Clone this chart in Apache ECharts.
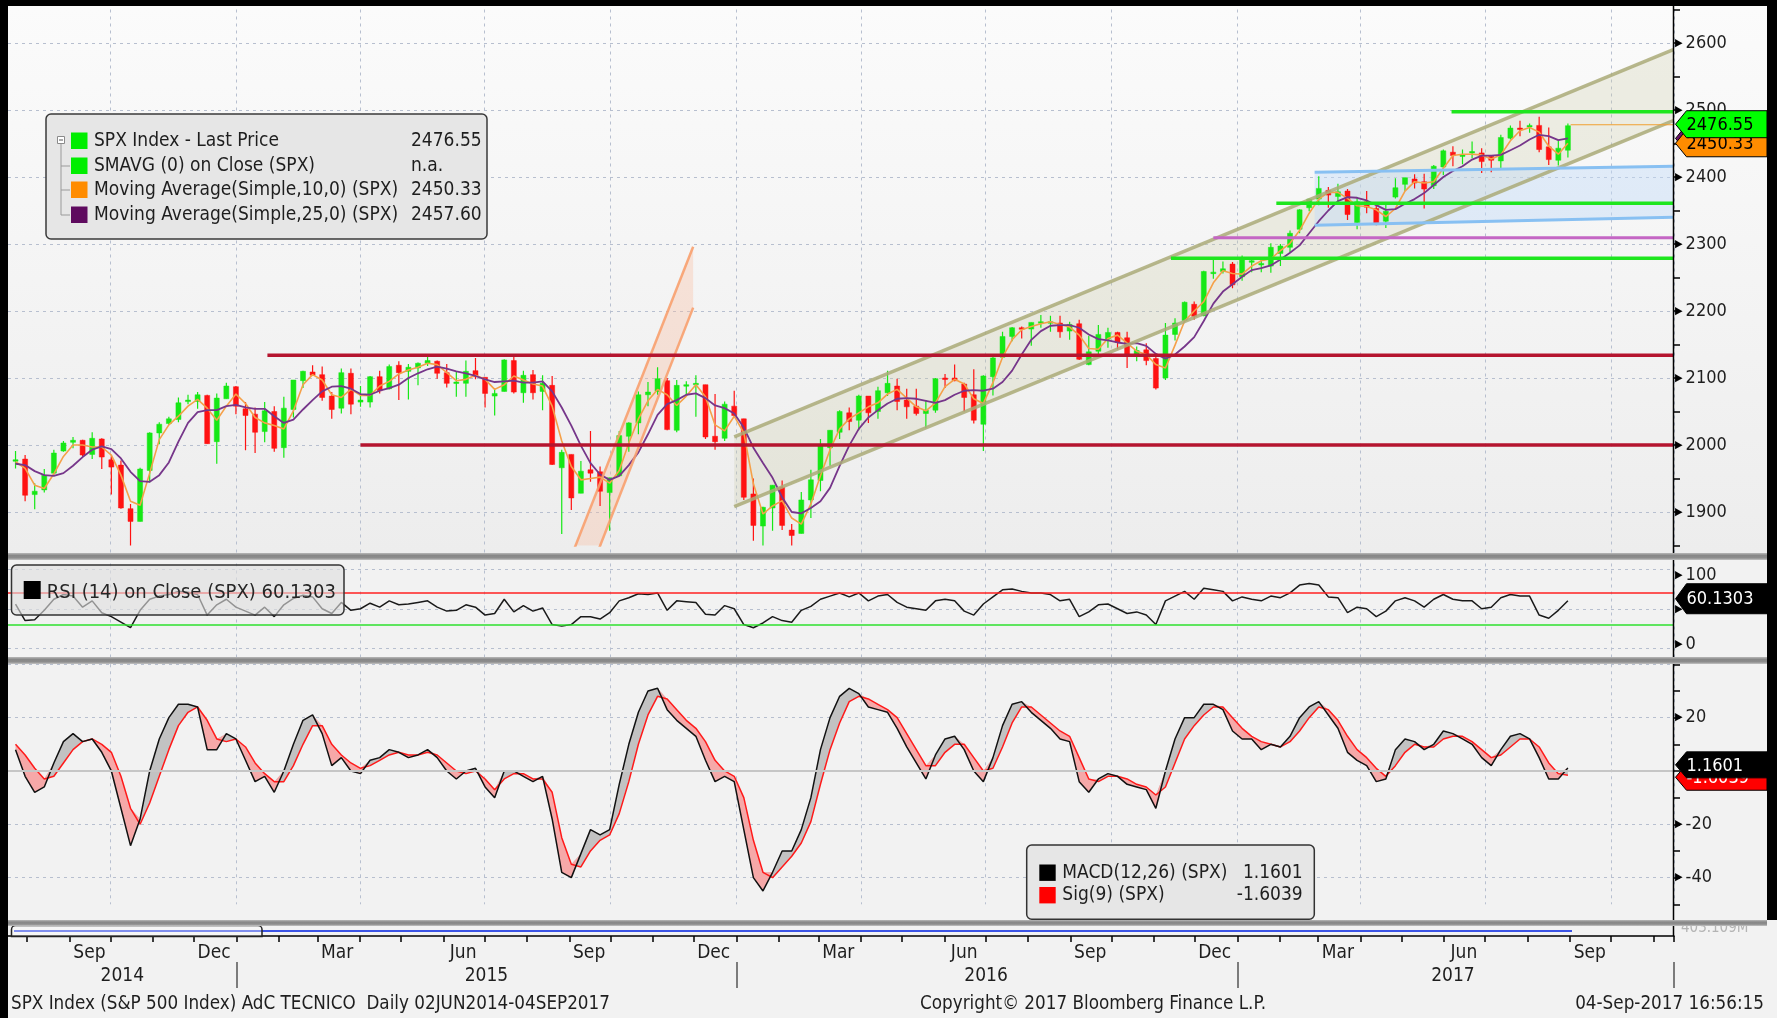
<!DOCTYPE html>
<html>
<head>
<meta charset="utf-8">
<title>SPX Index AdC TECNICO</title>
<script src="https://cdn.jsdelivr.net/npm/echarts/dist/echarts.min.js"></script>
<style>
html,body{margin:0;padding:0;background:#f2f2f2;}
#main{width:1777px;height:1018px;}
</style>
</head>
<body>
<div id="main"></div>
<script>
// axis range (calendar days) and first weekly bar (Wednesday of each week)
var firstDay = '2014-07-18';
var lastDay = '2017-11-15';
var weekStart = '2014-07-23';

// weekly bars: open, close, low, high
var ohlc = [
[1976,1978,1965,1991],[1979,1925,1916,1985],[1926,1931,1904,1943],[1933,1955,1929,1964],[1958,1988,1956,1993],
[1991,2003,1990,2006],[2004,2007,1995,2012],[2007,1985,1983,2008],[1986,2010,1979,2019],[2009,1982,1964,2010],
[1978,1967,1926,1985],[1970,1906,1905,1977],[1905,1886,1821,1912],[1886,1964,1886,1966],[1962,2018,1944,2019],
[2018,2031,2001,2034],[2032,2039,2030,2042],[2038,2063,2034,2071],[2065,2067,2061,2075],[2065,2075,2054,2079],
[2074,2002,2002,2075],[2005,2070,1972,2077],[2069,2088,2069,2093],[2087,2058,2046,2088],
[2054,2044,1992,2064],[2046,2019,1988,2056],[2020,2051,2004,2064],[2050,1995,1990,2058],[1996,2055,1981,2072],
[2053,2097,2041,2097],[2096,2110,2085,2111],[2109,2104,2103,2119],[2105,2071,2066,2117],[2073,2053,2039,2079],
[2055,2108,2047,2114],[2107,2061,2046,2114],[2064,2067,2057,2088],[2064,2102,2056,2103],[2102,2081,2077,2111],
[2084,2117,2083,2120],[2119,2108,2067,2125],[2110,2116,2068,2121],[2115,2122,2089,2123],[2122,2126,2118,2134],
[2125,2107,2099,2126],[2108,2092,2086,2121],[2092,2094,2072,2109],[2092,2110,2072,2126],[2111,2102,2098,2130],
[2101,2077,2056,2085],[2073,2077,2044,2085],[2080,2127,2080,2128],[2126,2079,2077,2133],[2078,2104,2063,2111],
[2105,2078,2068,2112],[2080,2092,2052,2104],[2089,1971,1970,2103],[1966,1989,1867,1993],[1986,1921,1903,1986],
[1928,1961,1928,1976],[1963,1958,1945,2021],[1960,1931,1909,1968],[1929,1951,1872,1951],[1954,2014,1954,2021],
[2013,2033,1990,2034],[2033,2075,2016,2080],[2075,2079,2058,2094],[2080,2099,2075,2116],[2096,2023,2022,2100],
[2022,2089,2019,2097],[2090,2090,2074,2095],[2090,2092,2042,2104],[2090,2012,2009,2090],[2013,2005,1993,2076],
[2010,2061,2006,2065],[2058,2044,2043,2081],
[2039,1922,1918,2039],[1927,1880,1857,1950],[1879,1907,1812,1908],[1906,1940,1872,1940],[1937,1880,1873,1947],
[1873,1865,1810,1882],[1868,1918,1868,1930],[1918,1948,1891,1963],[1947,2000,1931,2009],[1996,2022,1969,2022],
[2019,2050,2009,2052],[2048,2035,2022,2056],[2037,2073,2022,2075],[2073,2048,2033,2073],[2050,2081,2039,2087],
[2078,2092,2073,2111],[2088,2065,2052,2099],[2067,2057,2039,2084],[2058,2047,2044,2084],[2047,2052,2025,2067],
[2052,2099,2048,2100],[2100,2099,2085,2106],[2100,2096,2095,2120],[2091,2071,2050,2093],[2075,2037,2032,2113],
[2031,2103,1991,2104],[2102,2130,2074,2132],[2131,2162,2131,2169],[2162,2175,2155,2176],[2175,2174,2159,2177],
[2173,2183,2148,2183],[2182,2184,2175,2194],[2183,2184,2169,2193],[2182,2169,2160,2193],[2170,2180,2157,2184],
[2181,2128,2127,2187],[2120,2139,2119,2163],[2140,2165,2132,2179],[2158,2168,2145,2175],[2168,2153,2143,2169],
[2160,2133,2115,2169],[2133,2141,2125,2147],[2142,2126,2119,2152],[2129,2085,2083,2133],[2100,2164,2097,2182],
[2165,2182,2156,2189],[2186,2213,2184,2214],[2210,2192,2187,2214],[2193,2259,2192,2260],[2258,2258,2248,2278],
[2259,2263,2256,2274],[2270,2239,2234,2273],
[2251,2277,2245,2283],[2273,2275,2258,2279],[2270,2271,2258,2276],[2267,2295,2257,2301],[2286,2297,2267,2300],
[2295,2316,2287,2320],[2322,2351,2316,2352],[2354,2367,2349,2368],[2367,2383,2358,2401],[2380,2373,2354,2385],
[2371,2378,2361,2390],[2379,2344,2336,2382],[2332,2363,2322,2370],[2363,2355,2346,2379],[2353,2329,2328,2361],
[2334,2349,2324,2360],[2370,2384,2368,2398],[2389,2399,2379,2399],[2397,2391,2383,2404],[2393,2382,2353,2405],
[2387,2416,2382,2418],[2415,2439,2403,2441],[2437,2432,2416,2446],[2432,2433,2419,2441],[2437,2438,2428,2453],
[2436,2423,2406,2443],[2431,2425,2407,2433],[2424,2459,2412,2463],[2458,2473,2456,2477],[2473,2472,2461,2484],
[2477,2477,2466,2480],[2477,2441,2437,2490],[2445,2426,2418,2474],[2425,2443,2417,2454],[2440,2476.55,2429,2480]
];

var ma10 = [
1975,1965,1940,1935,1957,1983,2000,2000,1997,1997,1985,1955,1916,1910,1958,2008,2030,2043,2058,2068,2055,2037,2058,2076,
2062,2041,2033,2029,2024,2051,2090,2105,2097,2075,2071,2083,2074,2074,2088,2095,2106,2112,2116,2122,2120,2108,2096,2098,
2104,2098,2083,2090,2103,2097,2091,2088,2058,2006,1968,1948,1950,1952,1943,1962,2003,2039,2066,2083,2075,2059,2073,2090,
2072,2030,2021,2043,
2018,1942,1897,1909,1917,1891,1882,1912,1954,1993,2024,2039,2048,2057,2063,2076,2083,2070,2057,2051,2063,2087,2098,2091,
2069,2062,2093,2131,2157,2172,2177,2181,2184,2180,2176,2164,2144,2143,2159,2164,2152,2140,2135,2120,2115,2149,2185,2200,
2214,2242,2260,2256,
2255,2267,2275,2278,2290,2301,2320,2346,2367,2377,2377,2368,2357,2356,2351,2341,2353,2379,2393,2391,2393,2413,2432,2434,
2434,2433,2427,2433,2454,2469,2474,2467,2446,2434,2450.33
];

var ma25 = [
1972,1970,1961,1955,1954,1958,1969,1982,1993,1998,1994,1980,1960,1946,1945,1955,1974,2005,2033,2049,2052,2052,2058,2060,
2056,2054,2054,2043,2033,2038,2053,2067,2080,2087,2088,2084,2076,2075,2081,2085,2090,2100,2107,2113,2117,2114,2110,2107,
2103,2098,2094,2095,2096,2093,2093,2095,2080,2056,2029,1999,1973,1956,1948,1954,1970,1989,2016,2045,2061,2067,2075,2077,
2070,2059,2055,2047,
2026,1996,1973,1951,1922,1900,1898,1906,1916,1936,1969,1999,2024,2041,2052,2062,2069,2070,2069,2066,2063,2067,2075,2081,
2082,2081,2084,2094,2111,2135,2157,2170,2178,2179,2179,2175,2165,2158,2156,2153,2151,2152,2148,2136,2129,2135,2147,2161,
2185,2211,2229,2240,
2251,2261,2264,2268,2277,2287,2298,2316,2334,2350,2364,2370,2369,2365,2358,2351,2352,2360,2367,2376,2388,2400,2409,2416,
2426,2432,2432,2433,2440,2447,2456,2463,2461,2455,2457.6
];

var rsi = [
56,35,36,48,62,68,66,52,60,45,40,33,26,48,62,66,68,72,71,68,42,55,62,52,
47,42,52,40,55,63,67,65,50,44,58,48,50,57,52,60,55,56,58,60,52,47,48,55,52,42,44,62,46,54,47,51,30,28,30,40,40,37,45,60,
64,69,68,70,48,60,59,58,43,42,54,50,
30,26,32,40,35,33,48,53,62,66,70,65,70,60,66,68,58,52,50,48,60,62,60,47,42,56,65,74,75,72,70,70,68,60,62,40,46,55,56,50,
44,46,42,30,60,66,72,62,76,74,72,60,
65,62,60,66,64,70,80,82,80,65,64,45,52,50,40,47,60,64,60,52,62,68,62,60,60,50,52,64,68,66,66,42,38,48,60.1303
];

var macd = [
8,-2,-8,-6,3,11,14,11,12,7,0,-14,-28,-18,0,12,20,25,25,24,8,8,14,12,
4,-4,-2,-8,0,10,19,21,14,2,5,0,-1,4,5,8,7,5,6,8,5,0,-3,0,1,-6,-10,0,0,-2,-4,-2,-18,-38,-40,-31,-22,-24,-22,-5,
10,22,30,31,23,19,16,13,4,-4,-2,-4,
-22,-40,-45,-38,-30,-30,-22,-10,8,20,28,31,29,24,23,22,16,9,3,-3,6,12,13,8,0,-4,5,17,25,26,22,19,16,12,11,-4,-8,-3,-1,-2,
-5,-6,-7,-14,0,12,20,20,25,25,23,15,
12,12,8,10,9,13,20,24,26,21,16,7,4,2,-4,-3,8,12,11,8,10,15,14,12,10,5,2,8,13,14,12,5,-3,-3,1.1601
];

var sig = [
10,6,1,-3,-2,3,8,11,12,10,7,-2,-14,-20,-12,-2,8,17,22,24,19,12,11,12,
9,3,-1,-4,-4,2,10,17,17,10,6,3,1,2,4,6,7,6,6,7,6,3,0,-1,0,-3,-7,-3,-1,-1,-3,-3,-8,-25,-35,-36,-30,-26,-24,-16,
-4,10,21,28,27,23,19,16,11,4,0,-2,
-10,-26,-38,-40,-36,-32,-27,-19,-5,8,18,26,28,27,25,23,20,14,8,2,2,7,10,10,5,0,1,9,18,24,24,21,18,15,13,5,-3,-4,-2,-2,
-3,-5,-6,-9,-6,3,12,17,21,24,24,20,
16,13,11,10,9,11,15,20,24,23,19,13,8,5,1,-2,2,7,10,9,9,12,13,13,11,8,5,6,9,12,12,9,3,-1,-1.6039
];

// drawn levels and channels: [from date, price] to the right edge
var redLevels = [['2015-01-23', 2134], ['2015-04-01', 2000]];
var greenLevels = [['2016-11-13', 2278.6], ['2017-01-29', 2360.7], ['2017-06-06', 2497.5]];
var purpleLevels = [['2016-12-14', 2309.4]];
var lastPriceLine = [['2017-09-01', 2478]];
// channels: [date, upper, lower]
var oliveChannel = [['2015-12-30', 2012, 1908], ['2017-11-15', 2590, 2484]];
var blueChannel = [['2017-02-26', 2407, 2328], ['2017-11-15', 2416, 2340]];
var orangeUpper = [['2015-09-03', 1839], ['2015-11-30', 2296]];
var orangeLower = [['2015-09-21', 1839], ['2015-11-30', 2205]];
var rsiLevels = [70, 30];

var monthAbbr = ['Jan','Feb','Mar','Apr','May','Jun','Jul','Aug','Sep','Oct','Nov','Dec'];
var labelMonths = ['03', '06', '09', '12'];
var yearLabelDays = ['2014-10-09', '2015-07-02', '2016-07-01', '2017-06-07'];

var lastVals = {price: 2476.55, ma10: 2450.33, ma25: 2457.60, rsi: 60.1303, macd: 1.1601, sig: -1.6039};

var FONT = "'DejaVu Sans Condensed','Liberation Sans Narrow','DejaVu Sans',sans-serif";
var AXIS_X = 1673.5;
var UP = '#16e816', DOWN = '#ff1212';

function addDays(s, n) {
	var p = s.split('-');
	var d = new Date(Date.UTC(+p[0], +p[1] - 1, +p[2]) + n * 86400000);
	return d.toISOString().slice(0, 10);
}
var days = [];
for (var k = 0; k < 2000; k++) {
	var dd = addDays(firstDay, k);
	days.push(dd);
	if (dd === lastDay) break;
}
var dayIndex = {};
days.forEach(function (d, i) { dayIndex[d] = i; });
var weekDates = ohlc.map(function (r, i) { return addDays(weekStart, 7 * i); });

function pairs(arr) {
	return arr.map(function (v, i) { return [weekDates[i], v]; });
}
function quarterStart(v) {
	var md = v.slice(5);
	return md === '01-01' || md === '04-01' || md === '07-01' || md === '10-01';
}

var candleData = ohlc.map(function (r, i) { return [dayIndex[weekDates[i]], r[0], r[1], r[2], r[3]]; });
// fills between macd and signal
var grayH = macd.map(function (v, i) { return Math.max(v - sig[i], 0); });
var pinkH = macd.map(function (v, i) { return Math.max(sig[i] - v, 0); });

function panelX(gi) {
	return {
		type: 'category', gridIndex: gi, data: days, boundaryGap: true,
		axisLine: {show: false}, axisTick: {show: false}, axisLabel: {show: false},
		splitLine: {show: true, interval: function (i, v) { return quarterStart(v); },
			lineStyle: {color: '#b7bfcf', width: 1, type: [3, 4]}}
	};
}
var richBase = {
	a: {fontSize: 11, color: '#000', fontFamily: FONT},
	t: {fontSize: 18, color: '#1e1e1e', fontFamily: FONT, padding: [0, 0, 0, 3]},
	a2: {fontSize: 11, color: '#000', fontFamily: FONT, padding: [12, 0, 0, 0]},
	t2: {fontSize: 18, color: '#1e1e1e', fontFamily: FONT, padding: [12, 0, 0, 3]},
	a3: {fontSize: 11, color: '#000', fontFamily: FONT, padding: [0, 0, 8, 0]},
	t3: {fontSize: 18, color: '#1e1e1e', fontFamily: FONT, padding: [0, 0, 8, 3]}
};
var gridSplit = {show: true, lineStyle: {color: ['rgba(0,0,0,0)', '#b7bfcf'], width: 1, type: [3, 4]}};

function levelSeries(levels, color, width) {
	return levels.map(function (l) {
		return {type: 'line', xAxisIndex: 0, yAxisIndex: 0, data: [[l[0], l[1]], [lastDay, l[1]]],
			symbol: 'none', silent: true, z: 5, lineStyle: {color: color, width: width}};
	});
}
function channelLines(ch, color, width) {
	return [1, 2].map(function (k) {
		return {type: 'line', xAxisIndex: 0, yAxisIndex: 0, data: ch.map(function (p) { return [p[0], p[k]]; }),
			symbol: 'none', silent: true, z: 4, lineStyle: {color: color, width: width}};
	});
}
function polySeries(corners, fill) {
	return {
		type: 'custom', xAxisIndex: 0, yAxisIndex: 0, clip: true, silent: true, z: 1,
		data: [[dayIndex[corners[0][0]], corners[0][1]]],
		renderItem: function (params, api) {
			var pts = corners.map(function (c) { return api.coord([dayIndex[c[0]], c[1]]); });
			return {type: 'polygon', shape: {points: pts}, style: {fill: fill}};
		}
	};
}
// candles drawn as a clipped custom series so long wicks stop at the panel edge
function renderCandle(params, api) {
	var x = api.value(0), o = api.value(1), c = api.value(2), l = api.value(3), h = api.value(4);
	var pO = api.coord([x, o]), pC = api.coord([x, c]), pL = api.coord([x, l]), pH = api.coord([x, h]);
	var col = c >= o ? UP : DOWN;
	var w = 5;
	var top = Math.min(pO[1], pC[1]);
	return {
		type: 'group',
		children: [
			{type: 'line', shape: {x1: pH[0], y1: pH[1], x2: pL[0], y2: pL[1]}, style: {stroke: col, lineWidth: 1.2}},
			{type: 'rect', shape: {x: pO[0] - w / 2, y: top, width: w, height: Math.max(Math.abs(pO[1] - pC[1]), 1.5)},
				style: {fill: col, stroke: col, lineWidth: 0.5}}
		]
	};
}

var series = [];
series.push(polySeries([[oliveChannel[0][0], oliveChannel[0][1]], [oliveChannel[1][0], oliveChannel[1][1]],
	[oliveChannel[1][0], oliveChannel[1][2]], [oliveChannel[0][0], oliveChannel[0][2]]], 'rgba(205,205,170,0.28)'));
series.push(polySeries([orangeUpper[0], orangeUpper[1], orangeLower[1], orangeLower[0]], 'rgba(250,190,160,0.35)'));
series.push(polySeries([[blueChannel[0][0], blueChannel[0][1]], [blueChannel[1][0], blueChannel[1][1]],
	[blueChannel[1][0], blueChannel[1][2]], [blueChannel[0][0], blueChannel[0][2]]], 'rgba(195,220,248,0.45)'));
series.push({
	type: 'custom', xAxisIndex: 0, yAxisIndex: 0, data: candleData, clip: true, silent: true, z: 2,
	encode: {x: 0, y: [1, 2, 3, 4]}, renderItem: renderCandle
});
series.push({type: 'line', xAxisIndex: 0, yAxisIndex: 0, data: pairs(ma10), symbol: 'none', z: 3, silent: true,
	lineStyle: {color: '#f5a048', width: 1.6}});
series.push({type: 'line', xAxisIndex: 0, yAxisIndex: 0, data: pairs(ma25), symbol: 'none', z: 3, silent: true,
	lineStyle: {color: '#76368a', width: 1.8}});
series = series.concat(channelLines(oliveChannel, 'rgba(170,170,120,0.85)', 3.5));
series = series.concat(channelLines(blueChannel, '#88c0f2', 3));
series.push({type: 'line', xAxisIndex: 0, yAxisIndex: 0, data: orangeUpper, symbol: 'none', z: 4, silent: true,
	lineStyle: {color: 'rgba(248,160,110,0.9)', width: 2.5}});
series.push({type: 'line', xAxisIndex: 0, yAxisIndex: 0, data: orangeLower, symbol: 'none', z: 4, silent: true,
	lineStyle: {color: 'rgba(248,160,110,0.9)', width: 2.5}});
series = series.concat(levelSeries(redLevels, '#b5152f', 3.5));
series = series.concat(levelSeries(greenLevels, '#1ee61e', 3.5));
series = series.concat(levelSeries(purpleLevels, '#c466c4', 3));
series = series.concat(levelSeries(lastPriceLine, '#f0a030', 1.2));
//RSI
series.push({
	type: 'line', xAxisIndex: 1, yAxisIndex: 1, data: pairs(rsi), symbol: 'none', silent: true, z: 3,
	lineStyle: {color: '#1a1a1a', width: 1.5},
	markLine: {silent: true, symbol: ['none', 'none'], label: {show: false}, animation: false,
		data: [{yAxis: rsiLevels[0], lineStyle: {color: '#ff2020', width: 1.5, type: 'solid'}},
			{yAxis: rsiLevels[1], lineStyle: {color: '#2ee02e', width: 1.5, type: 'solid'}}]}
});
//MACD bands + lines
series.push({type: 'line', xAxisIndex: 2, yAxisIndex: 2, data: pairs(sig), stack: 'g', stackStrategy: 'all',
	symbol: 'none', silent: true, z: 1, lineStyle: {opacity: 0},
	markLine: {silent: true, symbol: ['none', 'none'], label: {show: false}, animation: false,
		data: [{yAxis: 0}], lineStyle: {color: '#c6c6c6', width: 2, type: 'solid'}}});
series.push({type: 'line', xAxisIndex: 2, yAxisIndex: 2, data: pairs(grayH), stack: 'g', stackStrategy: 'all',
	symbol: 'none', silent: true, z: 1, lineStyle: {opacity: 0}, areaStyle: {color: '#c2c2c2', opacity: 1}});
series.push({type: 'line', xAxisIndex: 2, yAxisIndex: 2, data: pairs(macd), stack: 'p', stackStrategy: 'all',
	symbol: 'none', silent: true, z: 1, lineStyle: {opacity: 0}});
series.push({type: 'line', xAxisIndex: 2, yAxisIndex: 2, data: pairs(pinkH), stack: 'p', stackStrategy: 'all',
	symbol: 'none', silent: true, z: 1, lineStyle: {opacity: 0}, areaStyle: {color: '#f6a8a8', opacity: 1}});
series.push({type: 'line', xAxisIndex: 2, yAxisIndex: 2, data: pairs(sig), symbol: 'none', silent: true, z: 3,
	lineStyle: {color: '#ff1a1a', width: 1.5}});
series.push({type: 'line', xAxisIndex: 2, yAxisIndex: 2, data: pairs(macd), symbol: 'none', silent: true, z: 3,
	lineStyle: {color: '#111', width: 1.5}});

var option = {
	animation: false,
	backgroundColor: '#f2f2f2',
	grid: [
		{left: 8, right: 103, top: 9.5, height: 536, outerBoundsMode: 'none'},
		{left: 8, right: 103, top: 549.5, height: 118.5, outerBoundsMode: 'none'},
		{left: 8, right: 103, top: 664.3, height: 240, outerBoundsMode: 'none'},
		{left: 8, right: 103, top: 926, height: 10, outerBoundsMode: 'none'}
	],
	xAxis: [
		panelX(0), panelX(1), panelX(2),
		{
			type: 'category', gridIndex: 3, data: days, boundaryGap: true,
			axisLine: {show: true, lineStyle: {color: '#000', width: 1.5}},
			axisTick: {show: true, length: 6, interval: function (i, v) { return v.slice(8) === '01'; },
				lineStyle: {color: '#000', width: 1.5}},
			axisLabel: {show: true, margin: 8,
				interval: function (i, v) { return v.slice(8) === '15' && labelMonths.indexOf(v.slice(5, 7)) >= 0; },
				formatter: function (v) { return monthAbbr[+v.slice(5, 7) - 1]; },
				fontSize: 19, fontFamily: FONT, color: '#1e1e1e'},
			splitLine: {show: false}
		},
		{
			type: 'category', gridIndex: 3, data: days, boundaryGap: true, position: 'bottom', offset: 26,
			axisLine: {show: false},
			axisTick: {show: true, length: 26, interval: function (i, v) { return v.slice(5) === '01-01'; },
				lineStyle: {color: '#555', width: 1.5}},
			axisLabel: {show: true, margin: 5,
				interval: function (i, v) { return yearLabelDays.indexOf(v) >= 0; },
				formatter: function (v) { return v.slice(0, 4); },
				fontSize: 19, fontFamily: FONT, color: '#1e1e1e'},
			splitLine: {show: false}
		}
	],
	yAxis: [
		{
			type: 'value', gridIndex: 0, position: 'right', min: 1850, max: 2650, interval: 50,
			axisLine: {show: false},
			axisTick: {show: true, length: 6, lineStyle: {color: '#000', width: 1.5}},
			axisLabel: {margin: 1, rich: richBase,
				formatter: function (v) { return v % 100 === 0 ? '{a|\u25B6}{t|' + v + '}' : ''; }},
			splitLine: gridSplit
		},
		{
			type: 'value', gridIndex: 1, position: 'right', min: -25, max: 125, interval: 25,
			axisLine: {show: false}, axisTick: {show: false},
			axisLabel: {margin: 1, rich: richBase,
				formatter: function (v) {
					if (v === 100) return '{a2|\u25B6}{t2|100}';
					if (v === 50) return '{a|\u25B6}{t|50}';
					if (v === 0) return '{a3|\u25B6}{t3|0}';
					return '';
				}},
			splitLine: gridSplit
		},
		{
			type: 'value', gridIndex: 2, position: 'right', min: -50, max: 40, interval: 10,
			axisLine: {show: false},
			axisTick: {show: true, length: 6, lineStyle: {color: '#000', width: 1.5}},
			axisLabel: {margin: 1, rich: richBase,
				formatter: function (v) { return (v === 20 || v === -20 || v === -40) ? '{a|\u25B6}{t|' + v + '}' : ''; }},
			splitLine: gridSplit
		},
		{type: 'value', gridIndex: 3, show: false, min: 0, max: 1}
	],
	series: series
};

var chart = echarts.init(document.getElementById('main'));
chart.setOption(option);

// ---------- decorations, legends, value tags ----------
function txt(x, y, s, size, align, color, z) {
	return {type: 'text', z: z || 110, style: {x: x, y: y, text: s, fontSize: size, fontFamily: FONT,
		fill: color || '#1e1e1e', align: align || 'left', verticalAlign: 'middle'}};
}
function rect(x, y, w, h, fill, stroke, r, z) {
	return {type: 'rect', z: z || 100, shape: {x: x, y: y, width: w, height: h, r: r || 0},
		style: {fill: fill, stroke: stroke || null, lineWidth: stroke ? 1.5 : 0}};
}
function sep(y, h) {
	return rect(8, y, 1759, h, {type: 'linear', x: 0, y: 0, x2: 0, y2: 1, colorStops: [
		{offset: 0, color: '#b8b8b8'}, {offset: 0.35, color: '#878787'}, {offset: 0.7, color: '#8d8d8d'}, {offset: 1, color: '#c4c4c4'}]});
}
function tag(cy, h, fill, textColor, label, z) {
	var xa = AXIS_X + 2, xb = AXIS_X + 13, xr = 1767;
	return [
		{type: 'polygon', z: z, shape: {points: [[xa, cy], [xb, cy - h], [xr, cy - h], [xr, cy + h], [xb, cy + h]]},
			style: {fill: fill, stroke: '#000', lineWidth: 1}},
		txt(xb, cy + 1, label, 18, 'left', textColor, z)
	];
}
var yP = function (v) { return chart.convertToPixel({yAxisIndex: 0}, v); };
var yR = function (v) { return chart.convertToPixel({yAxisIndex: 1}, v); };
var yM = function (v) { return chart.convertToPixel({yAxisIndex: 2}, v); };

var g = [];
// panel background
g.push({type: 'rect', z: -10, shape: {x: 8, y: 6, width: 1759, height: 547},
	style: {fill: {type: 'linear', x: 0, y: 0, x2: 0, y2: 1, colorStops: [{offset: 0, color: '#fbfbfb'}, {offset: 1, color: '#ededed'}]}}});
// right axis line
g.push({type: 'line', z: 99, shape: {x1: AXIS_X, y1: 6, x2: AXIS_X, y2: 936}, style: {stroke: '#000', lineWidth: 1.5}});
// volume strip
g.push({type: 'line', z: 99, shape: {x1: 14, y1: 931, x2: 1572, y2: 931}, style: {stroke: '#3c54e6', lineWidth: 2}});
g.push(rect(11.5, 925.5, 250.5, 11, 'rgba(255,255,255,0.35)', '#222', [4, 4, 0, 0], 99));
g.push(txt(1681, 928, '403.109M', 15, 'left', '#b4b4b4', 99));
// separators
g.push(sep(553, 7));
g.push(sep(657, 7));
g.push(sep(920, 6));
// black frame
g.push(rect(0, 0, 8, 1018, '#000', null, 0, 120));
g.push(rect(0, 0, 1777, 6, '#000', null, 0, 120));
g.push(rect(1767, 0, 10, 920, '#000', null, 0, 120));

// main legend
g.push(rect(46, 114, 441, 125, '#e6e6e6', '#3a3a3a', 5, 105));
g.push({type: 'rect', z: 106, shape: {x: 57.5, y: 136.5, width: 7, height: 7}, style: {fill: '#fff', stroke: '#8a8a8a', lineWidth: 1}});
g.push({type: 'line', z: 106, shape: {x1: 59, y1: 140, x2: 63, y2: 140}, style: {stroke: '#555', lineWidth: 1}});
g.push({type: 'line', z: 106, shape: {x1: 61, y1: 144, x2: 61, y2: 215}, style: {stroke: '#9a9a9a', lineWidth: 1}});
[166, 190, 215].forEach(function (y) {
	g.push({type: 'line', z: 106, shape: {x1: 61, y1: y, x2: 70, y2: y}, style: {stroke: '#9a9a9a', lineWidth: 1}});
});
var legRows = [
	['SPX Index - Last Price', lastVals.price.toFixed(2), '#00ee00'],
	['SMAVG (0) on Close (SPX)', 'n.a.', '#00ee00'],
	['Moving Average(Simple,10,0) (SPX)', lastVals.ma10.toFixed(2), '#ff8c00'],
	['Moving Average(Simple,25,0) (SPX)', lastVals.ma25.toFixed(2), '#5e0a5e']
];
[141, 166, 190, 215].forEach(function (y, i) {
	g.push(rect(71, y - 8.5, 16.5, 16.5, legRows[i][2], null, 0, 106));
	g.push(txt(94, y, legRows[i][0], 19));
	g.push(txt(411, y, legRows[i][1], 19));
});
// RSI legend
g.push(rect(11.5, 565, 332.5, 50, 'rgba(222,222,222,0.62)', '#333', 5, 105));
g.push(rect(23.7, 581, 17, 18, '#000', null, 0, 106));
g.push(txt(46.7, 593, 'RSI (14) on Close (SPX) ' + lastVals.rsi.toFixed(4), 20, 'left', '#262626'));
// MACD legend
g.push(rect(1026.7, 845, 287.6, 74.3, '#e6e6e6', '#333', 5, 105));
g.push(rect(1039.3, 864.5, 16.4, 16.4, '#000', null, 0, 106));
g.push(rect(1039.3, 887, 16.4, 16.4, '#ff0000', null, 0, 106));
g.push(txt(1062.3, 873, 'MACD(12,26) (SPX)', 19));
g.push(txt(1062.3, 895.5, 'Sig(9) (SPX)', 19));
g.push(txt(1302.7, 873, lastVals.macd.toFixed(4), 19, 'right'));
g.push(txt(1302.7, 895.5, lastVals.sig.toFixed(4), 19, 'right'));

// value tags on the right axis
g = g.concat(tag(yP(lastVals.ma25), 13.5, '#6a126a', '#fff', lastVals.ma25.toFixed(2), 111));
g = g.concat(tag(yP(lastVals.ma10), 13.5, '#ff8c00', '#000', lastVals.ma10.toFixed(2), 112));
g = g.concat(tag(yP(lastVals.price) - 1.5, 13.5, '#00ff00', '#000', lastVals.price.toFixed(2), 113));
g = g.concat(tag(yR(lastVals.rsi) - 2, 15, '#000', '#fff', lastVals.rsi.toFixed(4), 112));
g = g.concat(tag(yM(lastVals.sig) + 2, 13, '#ff0000', '#fff', lastVals.sig.toFixed(4), 111));
g = g.concat(tag(yM(lastVals.macd) - 3, 13, '#000', '#fff', lastVals.macd.toFixed(4), 112));

// footer
g.push(txt(11, 1004, 'SPX Index (S&P 500 Index) AdC TECNICO  Daily 02JUN2014-04SEP2017', 18.7));
g.push(txt(920, 1004, 'Copyright\u00A9 2017 Bloomberg Finance L.P.', 18.7));
g.push(txt(1764, 1004, '04-Sep-2017 16:56:15', 18.7, 'right'));

chart.setOption({graphic: g});
</script>
</body>
</html>
